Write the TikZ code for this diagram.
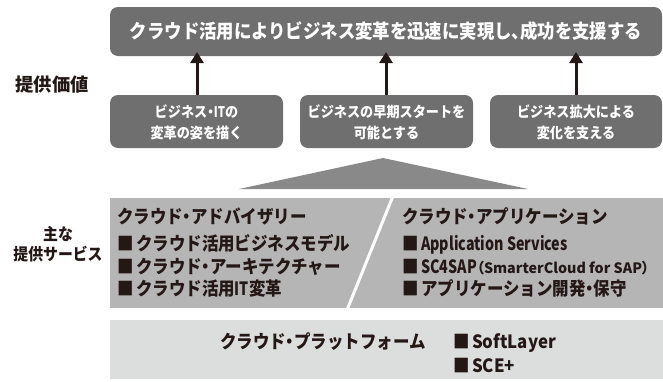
\documentclass[tikz,border=0pt]{standalone}
\usepackage{fontspec}
\usetikzlibrary{arrows.meta}
\newfontfamily\jp{Noto Sans CJK JP}[FakeStretch=0.9]
\newfontfamily\jpw{Noto Sans CJK JP}
\newfontfamily\jpl{Noto Sans CJK JP}[FakeStretch=0.78]
\newfontfamily\jpk{Noto Sans CJK JP}[FakeStretch=0.92]
\newcommand\pk[1]{{\addfontfeatures{RawFeature=+palt}#1}}
\newcommand\bsq{{\addfontfeatures{RawFeature=+palt}■}\hspace{2.5pt}}
\definecolor{boxdark}{HTML}{6F6F6F}
\definecolor{tri}{HTML}{898989}
\definecolor{midband}{HTML}{B5B5B5}
\definecolor{lowband}{HTML}{DCDDDD}
\definecolor{ink}{HTML}{231815}
\begin{document}
\begin{tikzpicture}[x=1pt,y=-1pt,
  valbox/.style={fill=boxdark,rounded corners=8pt,draw=none},
  wtxt/.style={text=white,font=\jp\bfseries\fontsize{14.6}{21}\selectfont,align=center,inner sep=0pt},
  ttxt/.style={text=white,font=\jp\bfseries\fontsize{19.3}{22}\selectfont,inner sep=0pt},
  btxt/.style={text=ink,font=\jp\bfseries\fontsize{18.3}{22}\selectfont,inner sep=0pt,anchor=base west},
  lbig/.style={text=ink,font=\jpw\bfseries\fontsize{18.3}{20}\selectfont,inner sep=0pt},
  ltxt/.style={text=ink,font=\jp\bfseries\fontsize{16.5}{20}\selectfont,align=center,inner sep=0pt},
  uparrow/.style={draw=ink,line width=3pt,-{Triangle[length=11pt,width=13pt]}}
]
\useasboundingbox (0,0) rectangle (663,381);
% top box
\fill[valbox] (110,7) rectangle (662,56);
\node[ttxt] (goal) at (386,31) {クラウド活用によりビジネス変革を迅速に実現し\pk{、}成功を支援する};
\coordinate (g1) at (197,56);
\coordinate (g2) at (386,56);
\coordinate (g3) at (576,56);
% value boxes
\fill[valbox] (110,95) rectangle (283,148);
\fill[valbox] (300,95) rectangle (473,148);
\fill[valbox] (490,95) rectangle (662,148);
\node[wtxt] (v1) at (196.5,122) {ビジネス\pk{・}{\jpl IT}の\\変革の姿を描く};
\node[wtxt] (v2) at (386.5,122) {ビジネスの早期スタートを\\可能とする};
\node[wtxt] (v3) at (576,122) {ビジネス拡大による\\変化を支える};
\coordinate (b1) at (197,95);
\coordinate (b2) at (386,95);
\coordinate (b3) at (576,95);
\draw[uparrow] (b1) -- ([yshift=4pt]g1);
\draw[uparrow] (b2) -- ([yshift=4pt]g2);
\draw[uparrow] (b3) -- ([yshift=4pt]g3);
% triangle
\fill[tri] (383,158) -- (528,189) -- (239,189) -- cycle;
% middle band
\fill[midband] (110,198) rectangle (663,308);
\draw[white,line width=3pt] (393,196) -- (347,310);
\node[btxt] (adv) at (117,223) {クラウド\pk{・}アドバイザリー};
\node[btxt] (adv1) at (117,250) {\bsq クラウド活用ビジネスモデル};
\node[btxt] (adv2) at (117,273) {\bsq クラウド\pk{・}アーキテクチャー};
\node[btxt] (adv3) at (117,295) {\bsq クラウド活用{\jpl IT}変革};
\node[btxt] (app) at (402,223) {クラウド\pk{・}アプリケーション};
\node[btxt] (app1) at (402,250) {\bsq{\jpl Application Services}};
\node[btxt] (app2) at (402,273) {\bsq{\jpl SC4SAP}{\jpw\fontsize{14.3}{16}\selectfont\pk{（}SmarterCloud for SAP\pk{）}}};
\node[btxt] (app3) at (402,295) {\bsq アプリケーション開発\pk{・}保守};
% bottom band
\fill[lowband] (110,320) rectangle (663,379);
\node[btxt] (plat) at (220,348) {クラウド\pk{・}プラットフォーム};
\node[btxt] (sl) at (453,348) {\bsq{\jpk SoftLayer}};
\node[btxt] (sce) at (453,372) {\bsq{\jpk SCE+}};
% left labels
\node[lbig] (lv) at (52,85) {提供価値};
\node[ltxt] (ls) at (58,244) {主な\\提供サービス};
\end{tikzpicture}
\end{document}
